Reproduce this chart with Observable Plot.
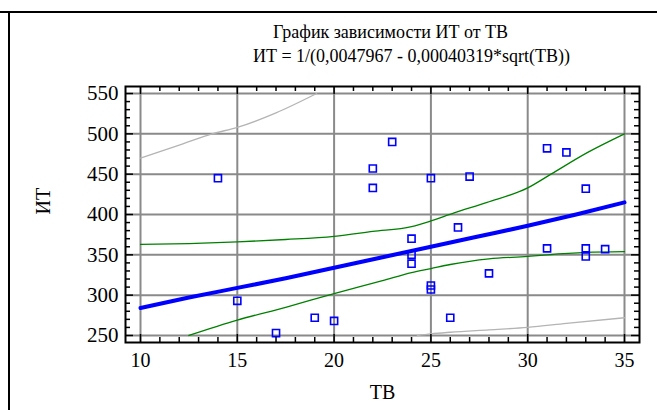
<!DOCTYPE html>
<html><head><meta charset="utf-8">
<script src="https://cdn.jsdelivr.net/npm/d3@7"></script>
<script src="https://cdn.jsdelivr.net/npm/@observablehq/plot@0.6"></script>
<style>
body{margin:0;background:#fff;}
#wrap{position:relative;width:657px;height:410px;overflow:hidden;}
.hline{position:absolute;left:0;top:11px;width:657px;height:2px;background:#000;}
.vline{position:absolute;left:8px;top:12px;width:2px;height:398px;background:#000;}
#chart{position:absolute;left:0;top:0;}
</style></head><body><div id="wrap"><div id="chart"></div><div class="hline"></div><div class="vline"></div></div>
<script>
const title = "График зависимости ИТ от ТВ";
const subtitle = "ИТ = 1/(0,0047967 - 0,00040319*sqrt(ТВ))";
const xLabel = "ТВ";
const yLabel = "ИТ";
const xTicks = [10, 15, 20, 25, 30, 35];
const yTicks = [250, 300, 350, 400, 450, 500, 550];

// observations
const obsTB = [14, 15, 17, 19, 20, 22, 22, 23, 24, 24, 24, 25, 25, 25, 26, 26.4, 27, 28, 31, 31, 32, 33, 33, 33, 34];
const obsIT = [445, 293, 253, 272, 268, 457, 433, 490, 370, 350, 339, 445, 312, 307, 272, 384, 447, 327, 482, 358, 477, 432, 358, 348, 357];

// fitted curve
const fitTB = [10, 12.5, 15, 17.5, 20, 22.5, 25, 27.5, 30, 32.5, 35];
const fitIT = [284, 297, 309, 321, 334, 347, 360, 373, 386, 400, 415];

// confidence limits (green)
const confUpTB = [10, 12.5, 15, 17.5, 20, 22, 24, 25, 26.2, 27.9, 30, 31.2, 33.1, 35];
const confUpIT = [363, 364, 366, 369, 373, 379, 385, 392, 402, 415, 433, 450, 477, 500];
const confLoTB = [12.5, 15, 17.5, 20, 22.5, 24, 25, 26, 27, 28, 30, 31, 33, 35];
const confLoIT = [250, 269, 285, 302, 318, 328, 333, 338, 342, 345, 348, 350, 353, 354];

// prediction limits (gray)
const predUpTB = [10, 12, 13.7, 15, 17, 19.1];
const predUpIT = [470, 486, 500, 508, 526, 550];
const predLoTB = [24.3, 25, 26, 28, 30, 32, 35];
const predLoIT = [250, 252, 254, 257, 260, 265, 272];

const pts = (xs, ys) => xs.map((x, i) => ({x, y: ys[i]}));

const W = 657, H = 410;
const mL = 125, mR = 18, mT = 86, mB = 68;
const plotW = W - mL - mR, plotH = H - mT - mB;
const majorLen = 8, minorLen = 5;
const xMinor = d3.range(10, 36, 1).filter(v => !xTicks.includes(v));
const yMinor = d3.range(250, 551, 10).filter(v => !yTicks.includes(v));
const font = "Liberation Serif";
const txt = {fontFamily: font, fill: "#000"};

const chart = Plot.plot({
  width: W, height: H,
  marginLeft: mL, marginRight: mR, marginTop: mT, marginBottom: mB,
  style: {fontFamily: font, fontSize: "20px", background: "transparent"},
  x: {domain: [9.225, 35.775], label: null},
  y: {domain: [241.3, 558.7], label: null},
  marks: [
    Plot.gridX(xTicks, {stroke: "#8a8a8a", strokeOpacity: 1, strokeWidth: 2}),
    Plot.gridY(yTicks, {stroke: "#8a8a8a", strokeOpacity: 1, strokeWidth: 2}),
    Plot.line(pts(predUpTB, predUpIT), {x: "x", y: "y", stroke: "#b4b4b4", strokeWidth: 1.3, curve: "monotone-x"}),
    Plot.line(pts(predLoTB, predLoIT), {x: "x", y: "y", stroke: "#b4b4b4", strokeWidth: 1.3, curve: "monotone-x"}),
    Plot.line(pts(confUpTB, confUpIT), {x: "x", y: "y", stroke: "#008000", strokeWidth: 1.3, curve: "monotone-x"}),
    Plot.line(pts(confLoTB, confLoIT), {x: "x", y: "y", stroke: "#008000", strokeWidth: 1.3, curve: "monotone-x"}),
    Plot.line(pts(fitTB, fitIT), {x: "x", y: "y", stroke: "#0000ff", strokeWidth: 4, curve: "monotone-x"}),
    Plot.dot(pts(obsTB, obsIT), {x: "x", y: "y", symbol: "square", r: 4, stroke: "#0000ff", strokeWidth: 1.6, fill: "none"}),
    Plot.frame({stroke: "#000", strokeWidth: 2}),
    Plot.tickX(xTicks, {x: d => d, insetTop: plotH - majorLen, stroke: "#000", strokeWidth: 1.5}),
    Plot.tickX(xMinor, {x: d => d, insetTop: plotH - minorLen, stroke: "#000", strokeWidth: 1.5}),
    Plot.tickX(xTicks, {x: d => d, insetBottom: plotH - majorLen, stroke: "#000", strokeWidth: 1.5}),
    Plot.tickX(xMinor, {x: d => d, insetBottom: plotH - minorLen, stroke: "#000", strokeWidth: 1.5}),
    Plot.tickY(yTicks, {y: d => d, insetRight: plotW - majorLen, stroke: "#000", strokeWidth: 1.5}),
    Plot.tickY(yMinor, {y: d => d, insetRight: plotW - minorLen, stroke: "#000", strokeWidth: 1.5}),
    Plot.tickY(yTicks, {y: d => d, insetLeft: plotW - majorLen, stroke: "#000", strokeWidth: 1.5}),
    Plot.tickY(yMinor, {y: d => d, insetLeft: plotW - minorLen, stroke: "#000", strokeWidth: 1.5}),
    Plot.axisX(xTicks, {anchor: "bottom", tickSize: 0, tickPadding: 10, fontSize: 20, label: null, tickFormat: d => String(d), ...txt}),
    Plot.axisY(yTicks, {anchor: "left", tickSize: 0, tickPadding: 7, fontSize: 21, label: null, tickFormat: d => String(d), ...txt}),
    Plot.text([xLabel], {frameAnchor: "bottom", dy: 50, text: d => d, fontSize: 20, lineAnchor: "middle", ...txt}),
    Plot.text([yLabel], {frameAnchor: "left", dx: -82, rotate: -90, text: d => d, fontSize: 20, lineAnchor: "middle", ...txt}),
    Plot.text([title], {frameAnchor: "top", dx: 8, dy: -54, text: d => d, fontSize: 18, lineAnchor: "middle", ...txt}),
    Plot.text([subtitle], {frameAnchor: "top", dx: 29, dy: -30, text: d => d, fontSize: 18, lineAnchor: "middle", ...txt})
  ]
});
document.getElementById("chart").appendChild(chart);
</script></body></html>
